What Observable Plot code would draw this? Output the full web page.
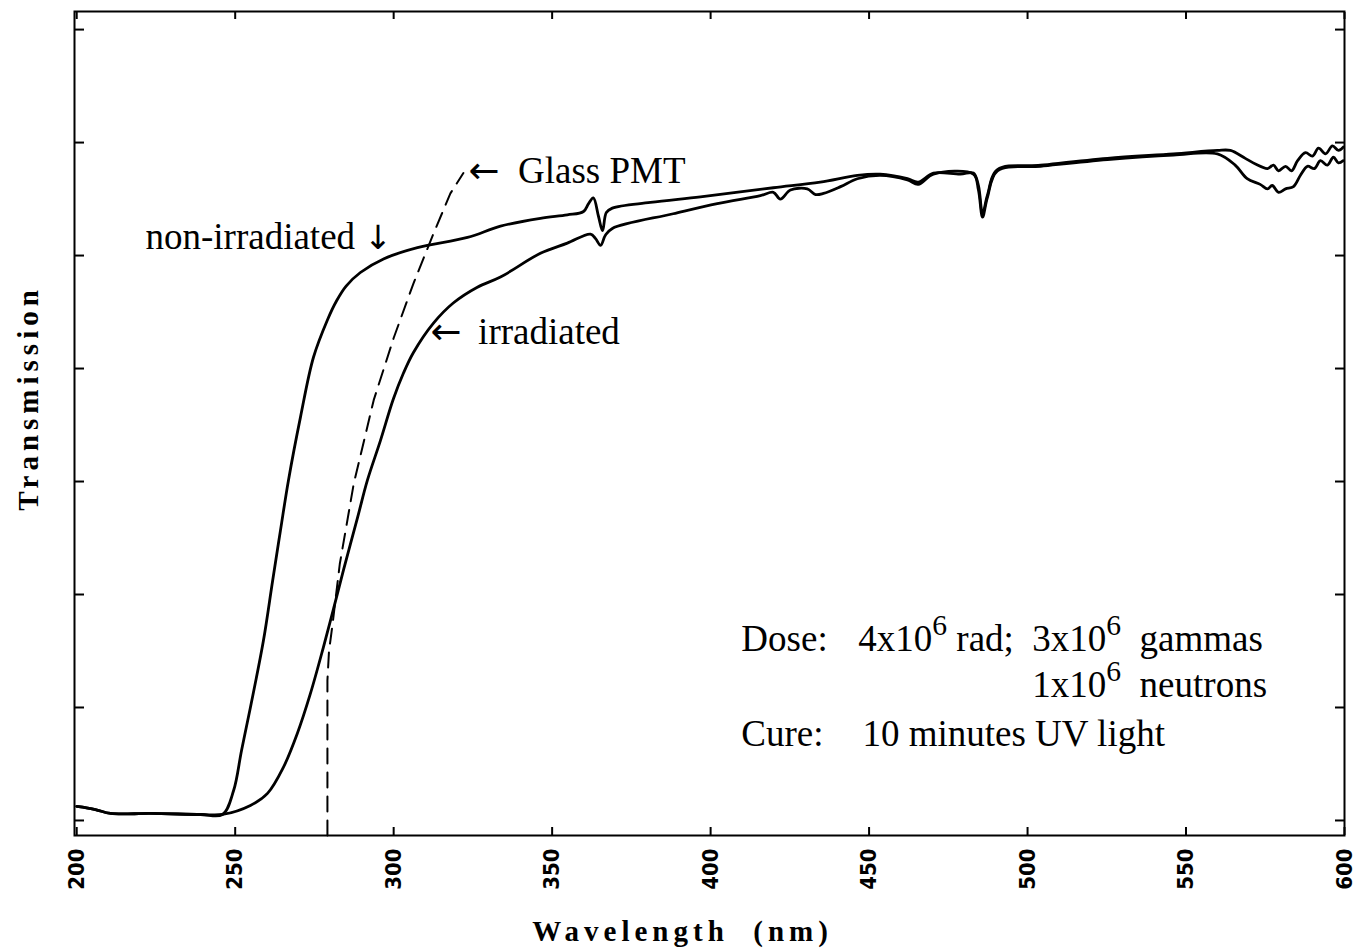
<!DOCTYPE html>
<html><head><meta charset="utf-8">
<script src="https://cdn.jsdelivr.net/npm/d3@7"></script>
<script src="https://cdn.jsdelivr.net/npm/@observablehq/plot@0.6"></script>
<style>
body{margin:0;background:#fff;}
svg text{white-space:pre;}
</style>
</head><body><div id="chart"></div>
<script>
// Wavelength (nm) / transmission (arbitrary units)
const wavelengthNonIrr = [200,205.9,210.7,223.3,239.1,246.0,249.5,252.0,254.8,258.9,261.8,264.3,266.8,270.6,274.7,279.1,282.0,285.0,289.5,296.8,307.5,323.3,333.7,346.3,354.8,359.9,361.5,363.0,364.6,365.9,367.1,369.0,381.0,396.8,419.8,434.6,446.3,453.5,462.1,465.5,470.3,478.8,482.9,484.5,485.8,487.3,490.5,504.1,525.2,546.0,559.9,564.0,568.7,571.9,575.7,577.6,579.2,581.4,583.3,585.2,587.7,589.9,591.8,594.0,596.2,598.1,599.6];
const transNonIrr = [1.24,0.97,0.62,0.62,0.53,0.53,2.65,6.2,10.0,15.9,21.2,25.7,30.1,35.7,41.0,44.3,46.0,47.3,48.5,49.7,50.7,51.6,52.6,53.3,53.6,53.9,54.6,55.1,53.5,52.2,53.8,54.2,54.7,55.2,56.0,56.5,57.1,57.2,56.8,56.5,57.3,57.2,57.3,56.2,53.7,55.3,57.6,58.0,58.6,59.0,59.3,59.3,58.6,58.1,57.7,58.0,57.5,57.9,57.5,58.4,59.1,58.8,59.5,59.0,59.7,59.3,59.6];

const wavelengthIrr = [200,205.9,210.7,223.3,239.1,246.0,254.8,260.2,265.2,269.6,273.7,277.8,281.0,284.2,288.6,291.7,295.8,299.9,303.1,306.2,312.5,318.8,326.4,333.7,346.3,354.8,362.1,363.7,365.3,366.8,369.0,388.2,402.1,415.7,419.8,422.0,425.2,430.5,433.1,435.6,441.0,446.3,453.5,462.1,465.5,470.3,482.9,484.5,485.8,487.3,490.5,504.1,525.2,546.0,559.9,565.5,569.3,573.4,575.7,577.2,579.2,581.4,583.9,586.1,588.3,590.5,592.4,594.6,596.5,598.1,599.6];
const transIrr = [1.24,0.97,0.62,0.62,0.53,0.53,1.33,2.4,4.7,7.7,11.2,15.3,18.7,22.2,26.8,30.1,33.6,37.3,39.6,41.4,44.0,45.8,47.2,48.1,50.2,51.1,51.9,51.5,50.9,51.8,52.4,53.7,54.6,55.3,55.6,55.0,55.8,55.9,55.4,55.5,56.1,56.8,57.1,56.7,56.3,57.2,57.2,55.8,53.4,55.1,57.5,57.9,58.5,58.9,59.0,58.0,56.8,56.3,55.9,56.2,55.6,55.9,56.1,57.1,57.9,57.7,58.4,58.0,58.7,58.2,58.4];

const wavelengthGlass = [279.1,279.1,279.6,280.6,283.0,286.1,287.4,293.7,300.0,306.2,312.5,317.9,322.0];
const transGlass = [-1.33,12.4,15.0,17.1,22.7,27.7,29.8,37.2,42.7,47.5,51.9,55.5,57.3];

const xTicks = [200,250,300,350,400,450,500,550,600];
const yTicks = [0,10,20,30,40,50,60,70];

const noteText = ["non-irradiated ↓","←  Glass PMT","← \u2009irradiated","Dose:","4x10^6 rad;","3x10^6  gammas","1x10^6  neutrons","Cure:","10 minutes UV light"];
const noteX = [221.7,323.6,311.6,409.7,446.6,501.5,501.5,409.7,447.9];
const noteY = [50.6,56.4,42.2,15.0,15.0,15.0,10.9,6.6,6.6];

const xLabel = "Wavelength  (nm)";
const yLabel = "Transmission";
const yLabelPos = {x: 184.8, y: 37.4};

const toRows = (xs, ys) => xs.map((x, i) => ({x, y: ys[i]}));
const notes = noteText.map((t, i) => ({t, x: noteX[i], y: noteY[i]}));

const serif = "'Liberation Serif', 'Times New Roman', serif";

const chart = Plot.plot({
  width: 1365, height: 951,
  marginLeft: 74, marginRight: 21, marginTop: 11, marginBottom: 116,
  style: {background: "#fff", color: "#000", overflow: "visible"},
  x: {domain: [199.3, 600]},
  y: {domain: [-1.33, 71.6]},
  marks: [
    Plot.frame({stroke: "#000", strokeWidth: 2}),
    Plot.axisX(xTicks, {anchor: "bottom", tickSize: -8, tickPadding: 21, tickRotate: -90, strokeWidth: 2,
      fontSize: 22, fontWeight: "bold", fontFamily: "'DejaVu Sans Condensed', 'DejaVu Sans', sans-serif", label: null}),
    Plot.axisX(xTicks, {anchor: "top", tickSize: -7, strokeWidth: 2, tickFormat: () => "", label: null}),
    Plot.axisY(yTicks, {anchor: "left", tickSize: -10, strokeWidth: 2, tickFormat: () => "", label: null}),
    Plot.axisY(yTicks, {anchor: "right", tickSize: -10, strokeWidth: 2, tickFormat: () => "", label: null}),
    Plot.line(toRows(wavelengthGlass, transGlass), {x: "x", y: "y", stroke: "#000", strokeWidth: 2, strokeDasharray: "15,9"}),
    Plot.line(toRows(wavelengthNonIrr, transNonIrr), {x: "x", y: "y", stroke: "#000", strokeWidth: 2.8, curve: "catmull-rom"}),
    Plot.line(toRows(wavelengthIrr, transIrr), {x: "x", y: "y", stroke: "#000", strokeWidth: 2.8, curve: "catmull-rom"}),
    Plot.text(notes, {x: "x", y: "y", text: "t", textAnchor: "start", lineAnchor: "bottom", fontSize: 37, fontFamily: serif, fill: "#000"}),
    Plot.text([xLabel], {frameAnchor: "bottom", dx: -27, dy: 105, lineAnchor: "bottom", fontSize: 29, fontWeight: "bold", fontFamily: serif, fill: "#000"}),
    Plot.text([yLabel], {x: () => yLabelPos.x, y: () => yLabelPos.y, rotate: -90, lineAnchor: "middle", textAnchor: "middle", fontSize: 29, fontWeight: "bold", fontFamily: serif, fill: "#000"})
  ]
});

// superscripts, arrow glyphs and letter spacing
const NS = "http://www.w3.org/2000/svg";
chart.querySelectorAll("text").forEach(t => {
  const s = t.textContent;
  if (/[\^←↓]/.test(s)) {
    const parts = s.split(/(\^\d|[←↓])/).filter(p => p !== "");
    t.textContent = "";
    parts.forEach(p => {
      const ts = document.createElementNS(NS, "tspan");
      if (p.startsWith("^")) {
        ts.textContent = p.slice(1);
        ts.setAttribute("baseline-shift", "super");
        ts.setAttribute("font-size", "80%");
      } else if (p === "←" || p === "↓") {
        ts.textContent = p;
        ts.setAttribute("font-family", "'DejaVu Sans', sans-serif");
        ts.setAttribute("font-size", p === "←" ? "100%" : "90%");
      } else {
        ts.textContent = p;
      }
      t.appendChild(ts);
    });
  }
  if (s === xLabel || s === yLabel) t.style.letterSpacing = "5px";
});
document.getElementById("chart").appendChild(chart);
</script>
</body></html>
